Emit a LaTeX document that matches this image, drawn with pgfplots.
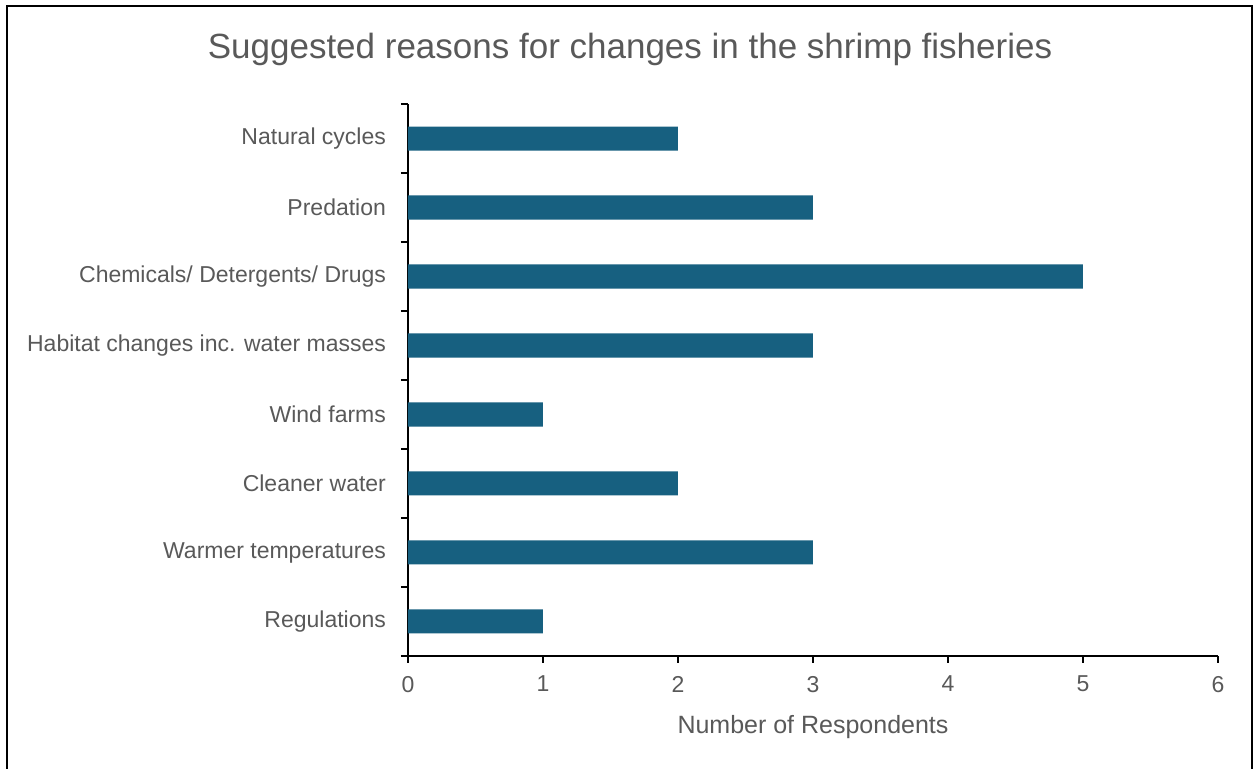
\documentclass[border=0pt]{standalone}
\usepackage{fontspec}
\setmainfont{Liberation Sans}
\usepackage{pgfplots}
\pgfplotsset{compat=1.18}
\definecolor{barblue}{RGB}{23,96,128}
\definecolor{txtgray}{RGB}{89,89,89}
\begin{document}
\begin{tikzpicture}[x=0.5pt,y=0.5pt]
\useasboundingbox (0,0) rectangle (1255,769);
\draw[line width=1.1pt] (7,-5) -- (7,763) -- (1252,763) -- (1252,-5);
\node[text=txtgray,font=\fontsize{17.5}{21}\selectfont] at (630,720) {Suggested reasons for changes in the shrimp fisheries};
\coordinate (A) at (408,113);
\begin{axis}[
  at={(A)}, anchor=south west,
  scale only axis, width=405pt, height=276pt,
  xmin=0, xmax=6, ymin=-0.5, ymax=7.5,
  axis x line*=bottom, axis y line*=left,
  axis line style={line width=0.8pt,-},
  xtick={0,...,6},
  ytick={0,...,7},
  yticklabels={Regulations,Warmer temperatures,Cleaner water,Wind farms,Habitat changes inc. water masses,Chemicals/ Detergents/ Drugs,Predation,Natural cycles},
  minor ytick={-0.5,0.5,...,7.5},
  tick align=outside,
  x tick style={line width=0.8pt,black},
  y tick style={line width=0.8pt,black},
  every major y tick/.style={draw=none},
  major tick length=3.5pt,
  minor tick length=3.5pt,
  ticklabel style={text=txtgray,font=\fontsize{11.5}{13}\selectfont},
  yticklabel style={xshift=-4pt},
  xticklabel style={yshift=-3pt},
  /pgf/number format/assume math mode=true,
  xlabel={Number of Respondents},
  xlabel style={at={(axis description cs:0.5,0)},anchor=center,yshift=-35.5pt,text=txtgray,font=\fontsize{12.5}{14}\selectfont},
  clip=false,
]
\addplot[xbar, bar width=0.348, fill=barblue, draw=none] coordinates {
  (1,0) (3,1) (2,2) (1,3) (3,4) (5,5) (3,6) (2,7)
};
\end{axis}
\end{tikzpicture}
\end{document}
